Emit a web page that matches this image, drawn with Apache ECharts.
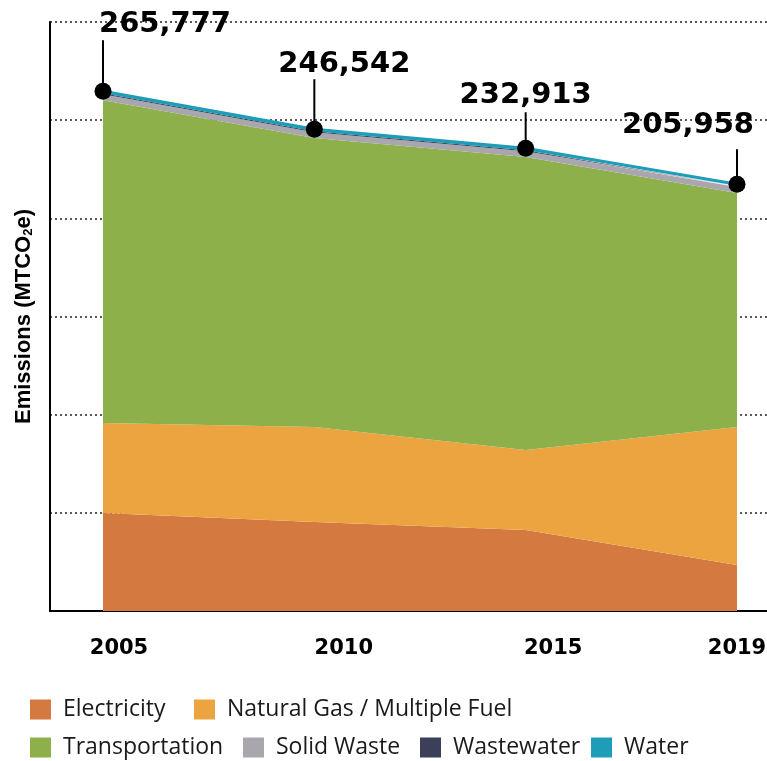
<!DOCTYPE html>
<html>
<head>
<meta charset="utf-8">
<script src="https://cdn.jsdelivr.net/npm/echarts@6/dist/echarts.min.js"></script>
<style>
  html, body { margin: 0; padding: 0; background: #fff; }
  #chart { width: 767px; height: 761px; }
</style>
</head>
<body>
<div id="chart"></div>
<script>
// data (MTCO2e)
const years = ['2005', '2010', '2015', '2019'];
const totalLabels = ['265,777', '246,542', '232,913', '205,958'];
const electricity = [49900, 45300, 41300, 23400];
const naturalGas = [45800, 48400, 40700, 70300];
const transportation = [164500, 147200, 149200, 119200];
const solidWaste = [3000, 3000, 3000, 3000];
const wastewater = [500, 500, 500, 500];
const water = [1000, 1000, 1000, 1000];

const names = ['Electricity', 'Natural Gas / Multiple Fuel', 'Transportation', 'Solid Waste', 'Wastewater', 'Water'];
const colors = ['#d47a40', '#eca441', '#8db04b', '#aaa6ae', '#3b3f57', '#1e9db8'];

// top of the stack, for the callout ticks
const stackTop = years.map((y, i) =>
  electricity[i] + naturalGas[i] + transportation[i] + solidWaste[i] + wastewater[i] + water[i]);

// where each total label sits relative to its point, and callout length
const labelShift = [[62, -67], [30, -65], [0, -53], [-49, -59]];
const calloutLen = [51, 50, 36, 35];

const chart = echarts.init(document.getElementById('chart'));

function area(name, values, idx) {
  return {
    name: name,
    type: 'line',
    stack: 'total',
    xAxisIndex: 1,
    yAxisIndex: 1,
    data: values,
    symbol: 'none',
    lineStyle: { width: 0 },
    itemStyle: { color: colors[idx] },
    areaStyle: { color: colors[idx], opacity: 1 },
    emphasis: { disabled: true }
  };
}

const series = [
  area(names[0], electricity, 0),
  area(names[1], naturalGas, 1),
  area(names[2], transportation, 2),
  area(names[3], solidWaste, 3),
  area(names[4], wastewater, 4),
  {
    name: 'Water',
    type: 'line',
    stack: 'total',
    xAxisIndex: 1,
    yAxisIndex: 1,
    data: water,
    symbol: 'circle',
    symbolSize: 17,
    showSymbol: true,
    itemStyle: { color: '#000' },
    lineStyle: { color: colors[5], width: 3 },
    areaStyle: { color: colors[5], opacity: 1 },
    emphasis: { disabled: true },
    z: 5,
    label: {
      show: true,
      position: 'top',
      formatter: p => totalLabels[p.dataIndex],
      fontFamily: 'DejaVu Sans',
      fontWeight: 'bold',
      fontSize: 29,
      color: '#000'
    },
    labelLayout: function (params) {
      const s = labelShift[params.dataIndex];
      const cx = params.rect.x + params.rect.width / 2;
      const cy = params.rect.y + params.rect.height / 2;
      return { x: cx + s[0], y: cy + s[1], align: 'center', verticalAlign: 'middle' };
    }
  },
  {
    // vertical callout ticks from each point up towards its label
    name: 'callout',
    type: 'custom',
    xAxisIndex: 1,
    yAxisIndex: 1,
    z: 4,
    silent: true,
    data: stackTop.map((v, i) => [i, v]),
    renderItem: function (params, api) {
      const p = api.coord([api.value(0), api.value(1)]);
      const len = calloutLen[params.dataIndex];
      return {
        type: 'line',
        shape: { x1: p[0], y1: p[1], x2: p[0], y2: p[1] - len },
        style: { stroke: '#000', lineWidth: 2 }
      };
    }
  }
];

// one legend per item so each sits where it does in the picture
const legendPos = [[30, 698], [194, 698], [30, 736], [243, 736], [420, 736], [591, 736]];
const legends = names.map((n, i) => ({
  data: [{ name: n, itemStyle: { color: colors[i] } }],
  left: legendPos[i][0],
  top: legendPos[i][1],
  padding: 0,
  icon: 'rect',
  itemWidth: 21,
  itemHeight: 20,
  selectedMode: false,
  textStyle: {
    fontFamily: 'Open Sans',
    fontSize: 23,
    color: '#1a1a1a',
    padding: [0, 0, 0, 7]
  }
}));

const yearRich = {};
[32, 59, 55, 0].forEach((p, i) => {
  yearRich['y' + i] = { padding: [0, 0, 0, p], fontFamily: 'DejaVu Sans', fontWeight: 'bold', fontSize: 21, color: '#000' };
});

chart.setOption({
  backgroundColor: '#fff',
  animation: false,
  grid: [
    { left: 50, right: 0, top: 22, bottom: 150, outerBoundsMode: 'none' },   // frame + dotted guides
    { left: 103, right: 30, top: 22, bottom: 150, outerBoundsMode: 'none' }  // data
  ],
  legend: legends,
  xAxis: [
    {
      gridIndex: 0,
      type: 'value',
      min: 0,
      max: 1,
      splitLine: { show: false },
      axisTick: { show: false },
      axisLabel: { show: false },
      axisLine: { show: true, onZero: false, lineStyle: { color: '#000', width: 2 } }
    },
    {
      gridIndex: 1,
      type: 'category',
      data: years,
      boundaryGap: false,
      axisLine: { show: false },
      axisTick: { show: false },
      splitLine: { show: false },
      axisLabel: {
        margin: 27,
        interval: 0,
        formatter: (v, i) => '{y' + i + '|' + v + '}',
        rich: yearRich
      }
    }
  ],
  yAxis: [
    {
      gridIndex: 0,
      type: 'value',
      min: 0,
      max: 300000,
      interval: 50000,
      name: 'Emissions (MTCO{sub|2}e)',
      nameLocation: 'middle',
      nameGap: 15,
      nameTextStyle: {
        fontFamily: 'Liberation Sans',
        fontWeight: 'bold',
        fontSize: 22,
        color: '#000',
        rich: {
          sub: { fontFamily: 'Liberation Sans', fontWeight: 'bold', fontSize: 13, color: '#000', verticalAlign: 'bottom', padding: [8, 0, 0, 0] }
        }
      },
      axisLabel: { show: false },
      axisTick: { show: false },
      axisLine: { show: true, onZero: false, lineStyle: { color: '#000', width: 2 } },
      splitLine: { show: true, lineStyle: { color: '#222', width: 1.5, type: [2, 3] } }
    },
    {
      gridIndex: 1,
      type: 'value',
      min: 0,
      max: 300000,
      interval: 50000,
      show: false,
      splitLine: { show: false }
    }
  ],
  series: series
});
</script>
</body>
</html>
